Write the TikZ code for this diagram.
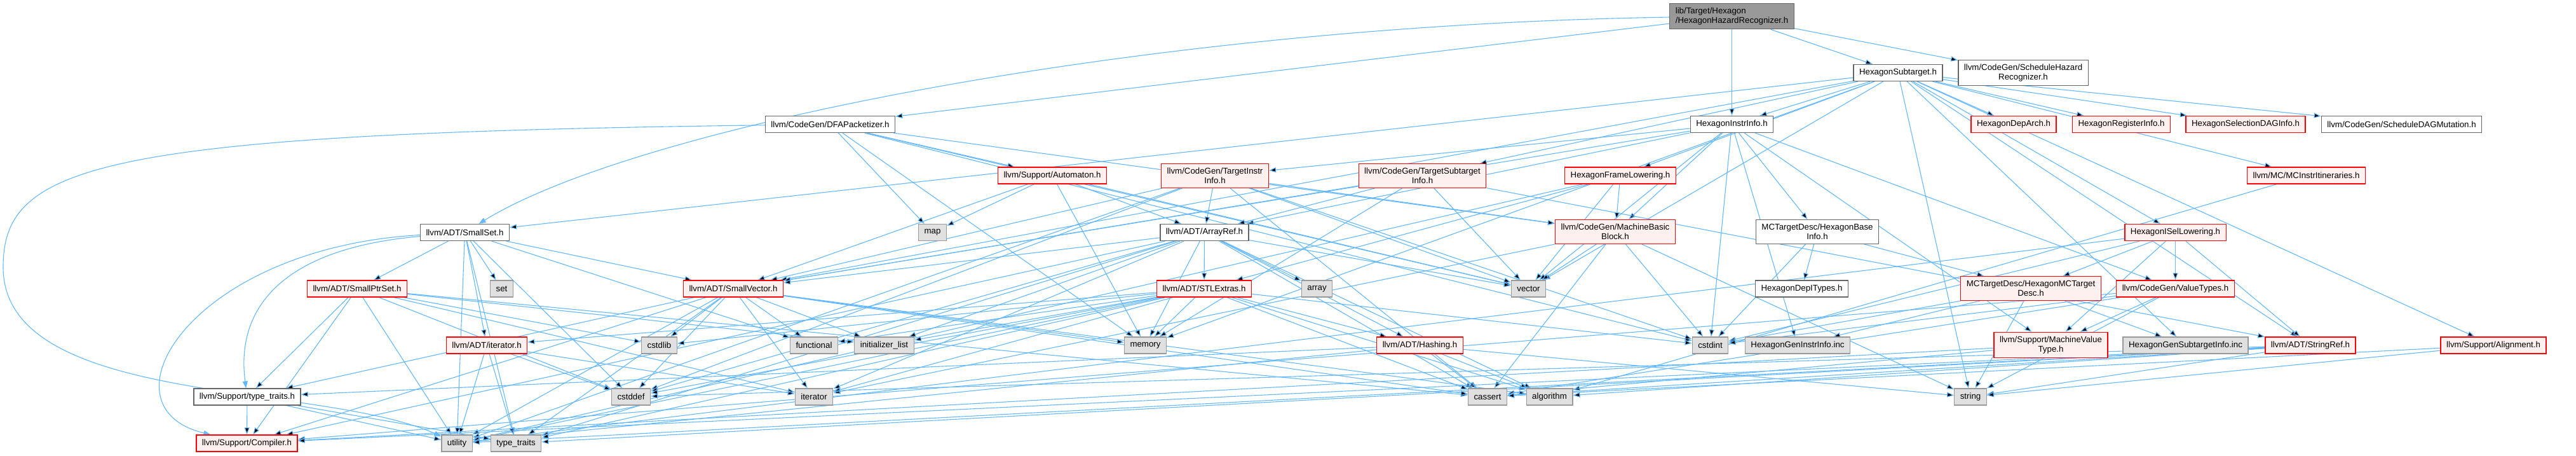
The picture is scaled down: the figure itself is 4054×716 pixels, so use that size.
\documentclass[tikz,border=0pt]{standalone}
\usepackage{fontspec}
\setmainfont{Liberation Sans}
\usetikzlibrary{arrows.meta, backgrounds}
\definecolor{edgeblue}{HTML}{63B8FF}
\definecolor{truncfill}{HTML}{FFF0F0}
\definecolor{sysfill}{HTML}{E0E0E0}
\definecolor{sysdraw}{HTML}{999999}
\definecolor{hdrdraw}{HTML}{666666}
\tikzset{
  hdr/.style={draw=hdrdraw, fill=white, line width=1.3pt, font=\fontsize{13.3}{15}\selectfont,
    inner xsep=9pt, inner ysep=6.5pt, minimum height=26pt, align=center},
  trunc/.style={hdr, draw=red, fill=truncfill},
  sys/.style={hdr, draw=sysdraw, fill=sysfill},
  root/.style={hdr, fill=sysdraw, align=left},
  arr/.style={draw=edgeblue, line width=1.1pt, -{Triangle[length=11pt, width=8pt]}},
}

\begin{document}
\begin{tikzpicture}[x=1pt, y=-1pt]
    \useasboundingbox (0,0) rectangle (4054,716);
    % rank 0-1
    \node[root] (hhr) at (2725.5,25.5) {lib/Target/Hexagon\\/HexagonHazardRecognizer.h};
    \node[hdr] (hst) at (2987,114.5) {HexagonSubtarget.h};
    \node[hdr] (shr) at (3184,114.5) {llvm/CodeGen/ScheduleHazard\\Recognizer.h};
    % rank 2
    \node[hdr] (dfa) at (1306.5,195.5) {llvm/CodeGen/DFAPacketizer.h};
    \node[hdr] (hii) at (2725.5,195.5) {HexagonInstrInfo.h};
    \node[trunc] (darch) at (3169,195.5) {HexagonDepArch.h};
    \node[trunc] (hri) at (3338.5,195.5) {HexagonRegisterInfo.h};
    \node[trunc] (hsdag) at (3534,195.5) {HexagonSelectionDAGInfo.h};
    \node[hdr] (sdm) at (3779.5,195.5) {llvm/CodeGen/ScheduleDAGMutation.h};
    % rank 3
    \node[trunc] (aut) at (1656,276) {llvm/Support/Automaton.h};
    \node[trunc] (tii) at (1912,276.5) {llvm/CodeGen/TargetInstr\\Info.h};
    \node[trunc] (tsi) at (2238.5,276.5) {llvm/CodeGen/TargetSubtarget\\Info.h};
    \node[trunc] (hfl) at (2550,276) {HexagonFrameLowering.h};
    \node[trunc] (mcii) at (3629.5,276) {llvm/MC/MCInstrItineraries.h};
    % rank 4
    \node[hdr] (sset) at (731.5,365.5) {llvm/ADT/SmallSet.h};
    \node[sys] (map) at (1467.5,365.5) {map};
    \node[hdr] (aref) at (1895.5,365.5) {llvm/ADT/ArrayRef.h};
    \node[trunc] (mbb) at (2542,364.5) {llvm/CodeGen/MachineBasic\\Block.h};
    \node[hdr] (hbi) at (2860,364.5) {MCTargetDesc/HexagonBase\\Info.h};
    \node[trunc] (hisel) at (3423.5,365.5) {HexagonISelLowering.h};
    % rank 5
    \node[trunc] (sps) at (562,454) {llvm/ADT/SmallPtrSet.h};
    \node[sys] (set) at (789.5,454) {set};
    \node[trunc] (svec) at (1154,454) {llvm/ADT/SmallVector.h};
    \node[trunc] (stle) at (1895,454) {llvm/ADT/STLExtras.h};
    \node[sys] (array) at (2072.5,454) {array};
    \node[sys] (vector) at (2405.5,454) {vector};
    \node[hdr] (ditypes) at (2835.5,454) {HexagonDepITypes.h};
    \node[trunc] (mctd) at (3196,453.5) {MCTargetDesc/HexagonMCTarget\\Desc.h};
    \node[trunc] (vt) at (3423.5,454) {llvm/CodeGen/ValueTypes.h};
    % rank 6
    \node[trunc] (iter) at (766,543) {llvm/ADT/iterator.h};
    \node[sys] (cstdlib) at (1037.5,543) {cstdlib};
    \node[sys] (functional) at (1281,543) {functional};
    \node[sys] (initlist) at (1391.5,543) {initializer\_list};
    \node[sys] (memory) at (1802.5,543) {memory};
    \node[trunc] (hash) at (2234.5,543) {llvm/ADT/Hashing.h};
    \node[sys] (cstdint) at (2691.5,543) {cstdint};
    \node[sys] (ginstr) at (2829,543) {HexagonGenInstrInfo.inc};
    \node[trunc] (mvt) at (3227.5,542.5) {llvm/Support/MachineValue\\Type.h};
    \node[sys] (gsub) at (3439.5,543) {HexagonGenSubtargetInfo.inc};
    \node[trunc] (sref) at (3636,543) {llvm/ADT/StringRef.h};
    \node[trunc] (align) at (3924,543) {llvm/Support/Alignment.h};
    % rank 7
    \node[hdr] (stt) at (389,624) {llvm/Support/type\_traits.h};
    \node[sys] (cstddef) at (993,624) {cstddef};
    \node[sys] (iterator) at (1281,624) {iterator};
    \node[sys] (cassert) at (2341,624) {cassert};
    \node[sys] (algorithm) at (2438.5,624) {algorithm};
    \node[sys] (string) at (3101,624) {string};
    % rank 8
    \node[trunc] (comp) at (388.5,697) {llvm/Support/Compiler.h};
    \node[sys] (utility) at (719,697) {utility};
    \node[sys] (typetr) at (812,697) {type\_traits};

    \begin{scope}[on background layer]
    % the long loops
    \draw[arr] (hhr) .. controls (1800,40) and (1000,200) .. (sset);
    \draw[arr] (dfa) .. controls (150,210) and (5,260) .. (5,420) .. controls (5,640) and (500,600) .. (utility);
    \draw[arr] (sset) .. controls (300,390) and (150,640) .. (comp);
    \draw[arr] (sset) .. controls (450,390) and (370,480) .. (stt);
    % the rest
    \path[arr] (hhr) edge (hii) edge (hst) edge (dfa) edge (shr);
    \path[arr] (hst) edge (darch) edge (hfl) edge (hisel) edge (hii) edge (hri) edge (hsdag)
      edge (sset) edge (svec) edge (sref) edge (sdm) edge (tsi) edge (mcii) edge (align)
      edge (memory) edge (string) edge (vector) edge (gsub);
    \path[arr] (dfa) edge (mbb) edge (aut) edge (map) edge (memory) edge (vector) edge (cstdint);
    \path[arr] (hii) edge (hbi) edge (aref) edge (svec) edge (mbb) edge (tii) edge (vt) edge (mvt)
      edge (cstdint) edge (vector) edge (ginstr);
    \path[arr] (aut) edge (map) edge (aref) edge (svec) edge (memory) edge (vector);
    \path[arr] (tii) edge (aref) edge (svec) edge (mbb) edge (cassert) edge (cstddef) edge (cstdint)
      edge (utility) edge (vector);
    \path[arr] (tsi) edge (aref) edge (svec) edge (sref) edge (memory) edge (vector);
    \path[arr] (hfl) edge (mbb) edge (vector) edge (stle) edge (utility);
    \path[arr] (mcii) edge (algorithm);
    \path[arr] (sset) edge (sps) edge (set) edge (svec) edge (iter) edge (cstddef) edge (functional)
      edge (typetr) edge (utility);
    \path[arr] (aref) edge (hash) edge (svec) edge (stle) edge (comp) edge (algorithm) edge (array)
      edge (cassert) edge (cstddef) edge (initlist) edge (iterator) edge (memory) edge (typetr) edge (vector);
    \path[arr] (mbb) edge (vector) edge (cstdint) edge (cassert) edge (iterator) edge (string);
    \path[arr] (hbi) edge (ditypes) edge (mctd) edge (cstdint);
    \path[arr] (hisel) edge (mctd) edge (vt) edge (sref) edge (mvt) edge (cstdint) edge (utility);
    \path[arr] (sps) edge (comp) edge (stt) edge (cassert) edge (cstddef) edge (cstdlib)
      edge (initlist) edge (iterator) edge (utility);
    \path[arr] (svec) edge (comp) edge (stt) edge (algorithm) edge (cassert) edge (cstddef) edge (cstdlib)
      edge (functional) edge (initlist) edge (iterator) edge (memory) edge (typetr) edge (utility);
    \path[arr] (stle) edge (hash) edge (iter) edge (algorithm) edge (cassert) edge (cstddef) edge (cstdint)
      edge (cstdlib) edge (functional) edge (initlist) edge (iterator) edge (memory) edge (typetr) edge (utility);
    \path[arr] (mctd) edge (gsub) edge (string) edge (cstdint) edge (ginstr);
    \path[arr] (vt) edge (mvt) edge (cassert) edge (cstdint) edge (string) edge (comp);
    \path[arr] (iter) edge (cstddef) edge (iterator) edge (typetr) edge (utility);
    \path[arr] (hash) edge (stt) edge (cassert) edge (algorithm) edge (string) edge (utility);
    \path[arr] (mvt) edge (cassert) edge (comp);
    \path[arr] (sref) edge (string) edge (algorithm) edge (cassert) edge (cstddef) edge (comp)
      edge (typetr) edge (utility);
    \path[arr] (align) edge (cassert) edge (string);
    \path[arr] (stt) edge (comp) edge (typetr) edge (utility);
    \end{scope}
  \end{tikzpicture}
\end{document}
